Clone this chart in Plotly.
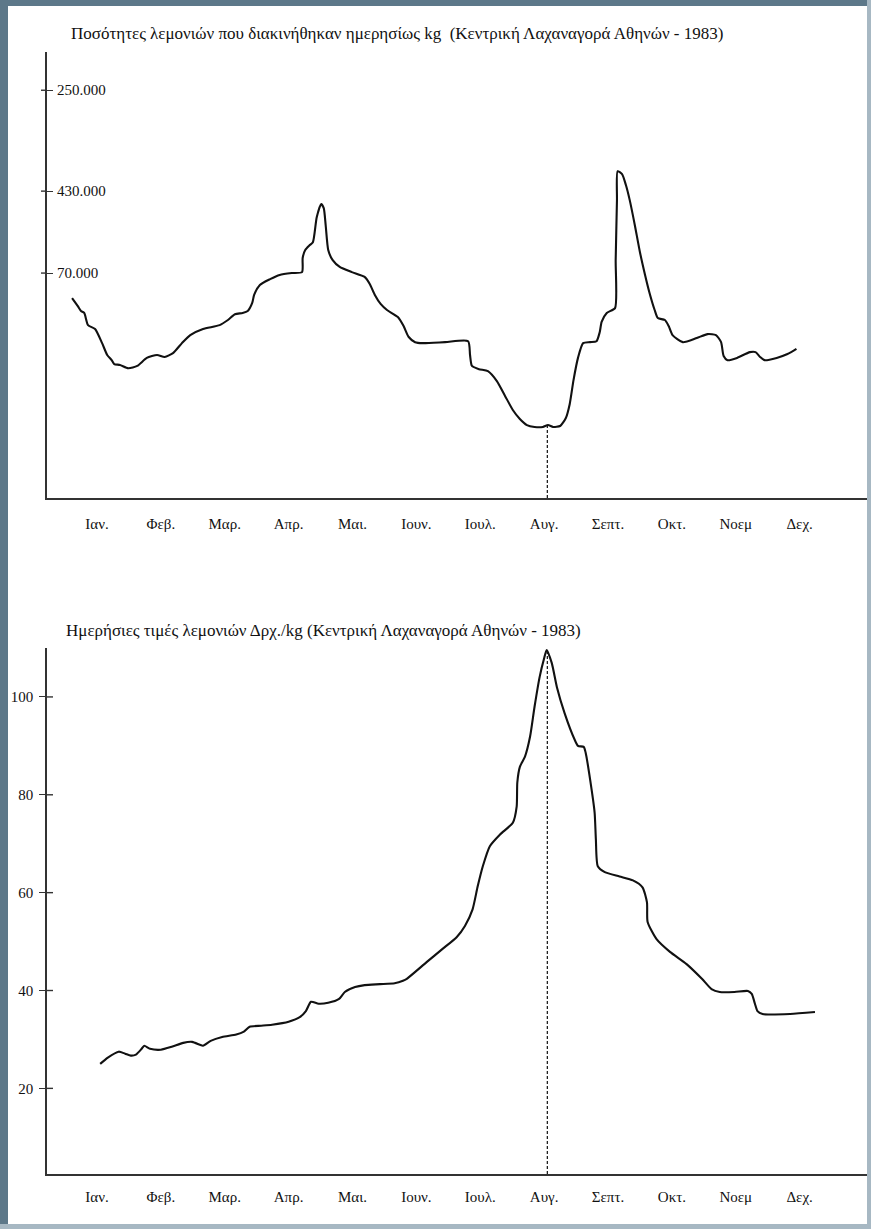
import numpy as np
import plotly.graph_objects as go

# ---------------------------------------------------------------- data
MONTHS = ["Ιαν.", "Φεβ.", "Μαρ.", "Απρ.", "Μαι.", "Ιουν.",
          "Ιουλ.", "Αυγ.", "Σεπτ.", "Οκτ.", "Νοεμ", "Δεχ."]
MONTH_POS = list(range(1, 13))

# daily traded quantity (thousand kg); x in month units (1 = Jan)
QTY_X = [0.61, 0.70, 0.75, 0.80, 0.86, 0.97, 1.08, 1.16, 1.23, 1.27,
         1.36, 1.49, 1.63, 1.78, 1.94, 2.06, 2.19, 2.33, 2.46, 2.66,
         2.92, 3.05, 3.16, 3.28, 3.36, 3.43, 3.46, 3.55, 3.71, 3.86,
         4.05, 4.21, 4.22, 4.26, 4.33, 4.38, 4.44, 4.51, 4.55, 4.58,
         4.62, 4.69, 4.80, 4.99, 5.19, 5.27, 5.35, 5.44, 5.54, 5.71,
         5.80, 5.88, 5.98, 6.10, 6.45, 6.81, 6.84, 6.87, 6.98, 7.12,
         7.26, 7.39, 7.51, 7.62, 7.73, 7.85, 7.98, 8.06, 8.14, 8.25,
         8.34, 8.40, 8.46, 8.53, 8.61, 8.72, 8.82, 8.87, 8.90, 8.98,
         9.11, 9.12, 9.14, 9.15, 9.22, 9.28, 9.34, 9.42, 9.50, 9.58,
         9.65, 9.73, 9.78, 9.89, 9.95, 10.01, 10.17, 10.39, 10.56, 10.69,
         10.77, 10.81, 10.87, 11.02, 11.22, 11.31, 11.38, 11.45, 11.64, 11.81,
         11.95]
QTY_Y = [62.2, 59.7, 58.2, 57.6, 53.8, 52.6, 48.2, 44.5, 42.9, 41.7,
         41.4, 40.4, 41.1, 43.6, 44.5, 43.9, 45.1, 48.2, 50.7, 52.6,
         53.8, 55.4, 57.2, 57.6, 58.2, 60.7, 63.2, 66.3, 68.1, 69.4,
         70.0, 70.3, 74.7, 77.2, 78.7, 79.6, 87.4, 91.5, 90.2, 84.9,
         77.2, 74.0, 71.9, 70.3, 68.8, 66.6, 63.2, 60.4, 58.5, 56.3,
         53.5, 50.1, 48.5, 48.2, 48.5, 48.8, 44.5, 41.1, 40.1, 39.5,
         36.4, 31.7, 27.4, 24.6, 22.7, 22.1, 22.1, 22.7, 22.1, 22.4,
         24.9, 29.2, 36.7, 43.6, 48.2, 48.5, 48.8, 51.6, 54.8, 57.6,
         59.1, 74.0, 92.7, 101.7, 100.8, 97.4, 92.7, 84.9, 76.5, 69.4,
         63.8, 58.5, 56.0, 55.4, 53.5, 50.7, 48.5, 49.8, 51.0, 50.7,
         48.5, 44.2, 42.9, 43.6, 45.4, 45.4, 43.9, 42.9, 43.6, 44.8,
         46.4]
QTY_TICK_VALS = [126.9, 95.5, 70.0]
QTY_TICK_TEXT = ["250.000", "430.000", "70.000"]
QTY_RANGE = [0, 138.8]

# daily price (drachmas per kg)
PRICE_X = [1.05, 1.17, 1.34, 1.44, 1.53, 1.61, 1.70, 1.74, 1.83, 2.00,
           2.17, 2.35, 2.49, 2.61, 2.66, 2.78, 2.96, 3.18, 3.30, 3.39,
           3.57, 3.74, 4.00, 4.18, 4.27, 4.35, 4.47, 4.62, 4.79, 4.88,
           5.04, 5.19, 5.43, 5.66, 5.79, 5.85, 6.16, 6.41, 6.63, 6.76,
           6.88, 6.96, 7.04, 7.15, 7.31, 7.51, 7.57, 7.58, 7.62, 7.70,
           7.78, 7.85, 7.93, 8.00, 8.04, 8.12, 8.20, 8.32, 8.48, 8.53,
           8.62, 8.65, 8.72, 8.79, 8.81, 8.84, 8.95, 9.18, 9.39, 9.54,
           9.61, 9.62, 9.76, 9.97, 10.23, 10.47, 10.62, 10.75, 10.98, 11.19,
           11.25, 11.30, 11.34, 11.42, 11.85, 12.24]
PRICE_Y = [25.0, 26.3, 27.5, 27.1, 26.7, 26.9, 28.1, 28.7, 28.1, 27.9,
           28.5, 29.3, 29.5, 28.9, 28.7, 29.7, 30.5, 31.0, 31.6, 32.6,
           32.8, 33.0, 33.6, 34.6, 35.8, 37.7, 37.3, 37.5, 38.3, 39.7,
           40.7, 41.1, 41.3, 41.5, 42.0, 42.4, 45.8, 48.5, 50.9, 53.2,
           56.6, 61.3, 65.4, 69.5, 71.9, 74.3, 77.6, 82.5, 85.7, 87.8,
           91.9, 98.0, 104.1, 107.9, 109.6, 106.9, 102.0, 96.7, 91.2, 90.0,
           89.8, 88.6, 83.1, 76.4, 70.9, 65.4, 64.2, 63.3, 62.5, 61.1,
           58.0, 54.0, 50.5, 47.9, 45.4, 42.4, 40.3, 39.7, 39.7, 39.9,
           39.3, 37.3, 35.8, 35.2, 35.2, 35.6]
PRICE_TICKS = [20, 40, 60, 80, 100]
PRICE_RANGE = [2.5, 110.0]

AUG_MARK = 8.05          # August reference line (trough of supply / price peak)
X_RANGE = [0.2175, 13.07]

TITLE_QTY = "Ποσότητες λεμονιών που διακινήθηκαν ημερησίως kg  (Κεντρική Λαχαναγορά Αθηνών - 1983)"
TITLE_PRICE = "Ημερήσιες τιμές λεμονιών Δρχ./kg (Κεντρική Λαχαναγορά Αθηνών - 1983)"

assert len(QTY_X) == len(QTY_Y) and len(PRICE_X) == len(PRICE_Y)

# ---------------------------------------------------------------- layout helpers
W, H = 871, 1229
def fx(p):  # page pixel -> paper x
    return p / W
def fy(p):  # page pixel -> paper y
    return 1 - p / H

SERIF = "Liberation Serif, Times New Roman, DejaVu Serif, serif"
INK = "#111111"
AXIS = "#333333"

fig = go.Figure()
line_style = dict(color=INK, width=2.1, shape="spline", smoothing=0.6)
fig.add_trace(go.Scatter(x=QTY_X, y=QTY_Y, mode="lines", line=line_style,
                         xaxis="x", yaxis="y", cliponaxis=False, hoverinfo="skip"))
fig.add_trace(go.Scatter(x=PRICE_X, y=PRICE_Y, mode="lines", line=line_style,
                         xaxis="x2", yaxis="y2", cliponaxis=False, hoverinfo="skip"))

x_dom = [fx(47), fx(868)]
common_x = dict(range=X_RANGE, domain=x_dom, showgrid=False, zeroline=False,
                showline=True, linecolor=AXIS, linewidth=2, ticks="",
                tickvals=MONTH_POS, ticktext=MONTHS,
                tickfont=dict(family=SERIF, size=15, color=INK), fixedrange=True)

fig.update_layout(
    width=W, height=H, margin=dict(l=0, r=0, t=0, b=0),
    paper_bgcolor="white", plot_bgcolor="white", showlegend=False,
    xaxis=dict(common_x, anchor="y", ticklabelstandoff=11),
    xaxis2=dict(common_x, anchor="y2", ticklabelstandoff=8),
    yaxis=dict(range=QTY_RANGE, domain=[fy(498), fy(52)], anchor="x",
               showgrid=False, zeroline=False, showline=True, linecolor=AXIS,
               linewidth=1.6, tickvals=QTY_TICK_VALS, showticklabels=False,
               ticks="inside", ticklen=6, tickwidth=1.4, tickcolor=AXIS,
               fixedrange=True),
    yaxis2=dict(range=PRICE_RANGE, domain=[fy(1174), fy(648)], anchor="x2",
                showgrid=False, zeroline=False, showline=True, linecolor=AXIS,
                linewidth=1.6, tickvals=PRICE_TICKS,
                ticks="outside", ticklen=6, tickwidth=1.4, tickcolor=AXIS,
                ticklabelstandoff=3,
                tickfont=dict(family=SERIF, size=15, color=INK), fixedrange=True),
)

shapes = []
# tick halves on the other side of each y axis line
for v in QTY_TICK_VALS:
    shapes.append(dict(type="line", xref="paper", yref="y", x0=fx(41), x1=fx(47),
                       y0=v, y1=v, line=dict(color=AXIS, width=1.4)))
for v in PRICE_TICKS:
    shapes.append(dict(type="line", xref="paper", yref="y2", x0=fx(47), x1=fx(53),
                       y0=v, y1=v, line=dict(color=AXIS, width=1.4)))

# dashed August reference lines, from the axis up to each curve
q_aug = float(np.interp(AUG_MARK, QTY_X, QTY_Y))
p_aug = float(np.interp(AUG_MARK, PRICE_X, PRICE_Y))
shapes.append(dict(type="line", xref="x", yref="y", x0=AUG_MARK, x1=AUG_MARK,
                   y0=QTY_RANGE[0], y1=q_aug, line=dict(color=INK, width=1.2, dash="3px,2px")))
shapes.append(dict(type="line", xref="x2", yref="y2", x0=AUG_MARK, x1=AUG_MARK,
                   y0=PRICE_RANGE[0], y1=p_aug, line=dict(color=INK, width=1.2, dash="3px,2px")))

# page frame
FRAME = "#5d7889"
FRAME_LIGHT = "#a7b8c3"
shapes += [
    dict(type="rect", xref="paper", yref="paper", x0=0, x1=fx(8), y0=0, y1=1,
         fillcolor=FRAME, line=dict(width=0), layer="above"),
    dict(type="rect", xref="paper", yref="paper", x0=0, x1=1, y0=fy(6), y1=1,
         fillcolor=FRAME, line=dict(width=0), layer="above"),
    dict(type="rect", xref="paper", yref="paper", x0=fx(867), x1=1, y0=0, y1=1,
         fillcolor=FRAME_LIGHT, line=dict(width=0), layer="above"),
    dict(type="rect", xref="paper", yref="paper", x0=0, x1=1, y0=0, y1=fy(1224),
         fillcolor=FRAME_LIGHT, line=dict(width=0), layer="above"),
]
fig.update_layout(shapes=shapes)

# quantity axis labels sit to the right of the axis line
for v, t in zip(QTY_TICK_VALS, QTY_TICK_TEXT):
    fig.add_annotation(text=t, xref="paper", yref="y", x=fx(55), y=v,
                       xanchor="left", yanchor="middle", showarrow=False,
                       font=dict(family=SERIF, size=15, color=INK))

fig.add_annotation(text=TITLE_QTY, xref="paper", yref="paper", x=fx(69), y=fy(33),
                   xanchor="left", yanchor="middle", showarrow=False,
                   font=dict(family=SERIF, size=17, color=INK))
fig.add_annotation(text=TITLE_PRICE, xref="paper", yref="paper", x=fx(64), y=fy(630),
                   xanchor="left", yanchor="middle", showarrow=False,
                   font=dict(family=SERIF, size=17, color=INK))

fig.write_html("out.html", config={"displayModeBar": False})
